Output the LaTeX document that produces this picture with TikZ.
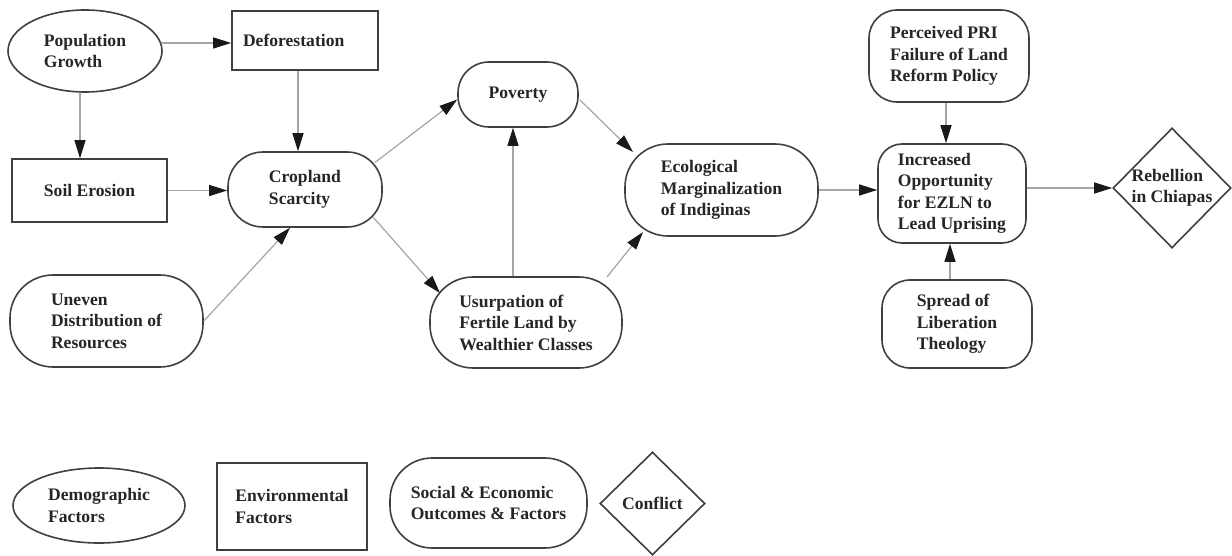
\documentclass[tikz,border=0pt]{standalone}
\usepackage{fontspec}
\setmainfont{Liberation Serif}
\usetikzlibrary{shapes.geometric,arrows.meta,calc}

\begin{document}
\begin{tikzpicture}[x=1pt,y=-1pt,
  every node/.style={font=\bfseries\fontsize{17.6}{21.5}\selectfont,
    text=black!85, align=left, inner sep=0pt},
  box/.style={draw=black!75, line width=1.6pt},
  demog/.style={box, ellipse},
  envir/.style={box, rectangle},
  outcome/.style={box, rectangle, rounded corners=#1},
  conflict/.style={box, diamond},
  link/.style={draw=black!35, line width=1.2pt,
    -{Triangle[length=18pt,width=11pt,color=black!90]}}
]
\fill[white] (0,0) rectangle (1232,556);
\useasboundingbox (0,0) rectangle (1232,556);

% causal chain
\node[demog, minimum width=154pt, minimum height=82pt] (pop) at (85,51) {Population\\Growth};
\node[envir, minimum height=59pt, text width=124pt, inner xsep=11pt] (def) at (305,40.5) {Deforestation};
\node[envir, minimum width=155pt, minimum height=63pt] (soil) at (89.5,190.5) {Soil Erosion};
\node[outcome=35pt, minimum width=154pt, minimum height=75pt] (crop) at (305,189.5) {Cropland\\Scarcity};
\node[outcome=43pt, minimum width=193pt, minimum height=92pt] (unev) at (106.5,321) {Uneven\\Distribution of\\Resources};
\node[outcome=31pt, minimum width=120pt, minimum height=65pt] (pov) at (518,94.5) {Poverty};
\node[outcome=43pt, minimum width=192pt, minimum height=91pt] (usur) at (526,322.5) {Usurpation of\\Fertile Land by\\Wealthier Classes};
\node[outcome=43pt, minimum width=193pt, minimum height=92pt] (eco) at (721.5,190) {Ecological\\Marginalization\\of Indiginas};
\node[outcome=28pt, minimum width=160pt, minimum height=92pt] (pri) at (949,56) {Perceived PRI\\Failure of Land\\Reform Policy};
\node[outcome=24pt, minimum width=148pt, minimum height=99pt] (inc) at (952,193.5) {Increased\\Opportunity\\for EZLN to\\Lead Uprising};
\node[outcome=28pt, minimum width=150pt, minimum height=88pt] (spr) at (957,324) {Spread of\\Liberation\\Theology};
\node[conflict, minimum width=118pt, minimum height=120pt,
  label={center:Rebellion\\in Chiapas}] (reb) at (1172,188) {};

% legend
\node[demog, minimum width=172pt, minimum height=75pt] (lgdemo) at (99,505.5) {Demographic\\Factors};
\node[envir, minimum width=150pt, minimum height=87pt] (lgenv) at (292,506.5) {Environmental\\Factors};
\node[outcome=42pt, minimum width=197pt, minimum height=90pt] (lgsoc) at (488.5,503) {Social \& Economic\\Outcomes \& Factors};
\node[conflict, minimum width=105pt, minimum height=103pt,
  label={center:Conflict}] (lgconf) at (652.5,503.5) {};

% connector start points
\coordinate (popS) at ([xshift=-5pt]pop.south);
\coordinate (defS) at ([xshift=-7pt]def.south);
\coordinate (usurN) at ([xshift=-13pt]usur.north);
\coordinate (priS) at ([xshift=-3pt]pri.south);
\coordinate (sprN) at ([xshift=-7pt]spr.north);

% connectors
\draw[link] (pop.6) -- (pop.6 -| def.west);
\draw[link] (popS) -- (popS |- soil.north);
\draw[link] (defS) -- (defS |- crop.north);
\draw[link] (soil.east) -- (soil.east -| crop.west);
\draw[link] (unev.east) -- ([xshift=-15pt]crop.south);
\draw[link] ($(crop.center)+(70,-27)$) -- ($(pov.west)+(0,5)$);
\draw[link] ($(crop.center)+(68,27.5)$) -- ($(usur.center)+(-86,-29.5)$);
\draw[link] (usurN) -- (usurN |- pov.south);
\draw[link] ($(pov.center)+(62,5.5)$) -- ($(eco.center)+(-88.5,-38)$);
\draw[link] ($(usur.center)+(81,-45.5)$) -- ($(eco.center)+(-78.5,42)$);
\draw[link] (eco.east) -- (eco.east -| inc.west);
\draw[link] (priS) -- (priS |- inc.north);
\draw[link] (sprN) -- (sprN |- inc.south);
\draw[link] (reb.west -| inc.east) -- (reb.west);
\end{tikzpicture}
\end{document}
